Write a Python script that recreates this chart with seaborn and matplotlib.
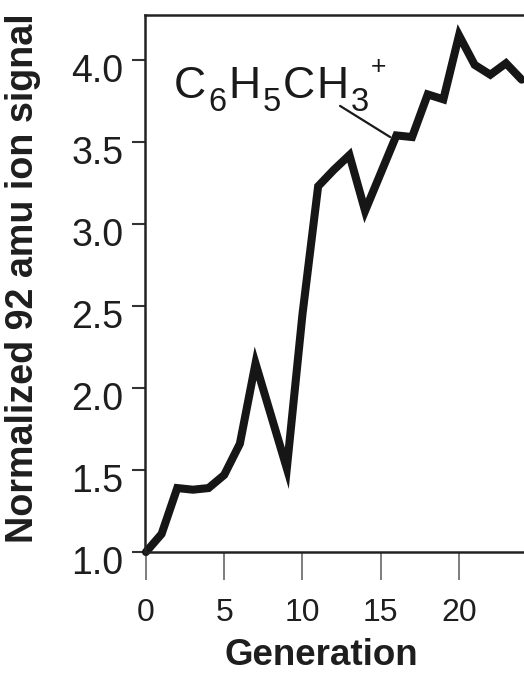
import numpy as np
import pandas as pd
import matplotlib
matplotlib.use("Agg")
import matplotlib.pyplot as plt
import matplotlib.transforms as mtransforms
import seaborn as sns

# data
generation = list(range(25))
ion_signal = [1.00, 1.11, 1.39, 1.38, 1.39, 1.47, 1.66, 2.15, 1.83, 1.51,
              2.45, 3.23, 3.33, 3.42, 3.08, 3.31, 3.54, 3.53, 3.79, 3.76,
              4.15, 3.97, 3.91, 3.98, 3.88]
x_ticks = [0, 5, 10, 15, 20]
y_ticks = [1.0, 1.5, 2.0, 2.5, 3.0, 3.5, 4.0]
# C6H5CH3+ written piece by piece: (text, kind)
species_parts = [("C", "main"), ("6", "sub"), ("H", "main"), ("5", "sub"),
                 ("C", "main"), ("H", "main"), ("3", "sub"), ("+", "sup")]

df = pd.DataFrame({"Generation": generation, "signal": ion_signal})

sns.set_theme(style="ticks")
plt.rcParams["font.family"] = ["Liberation Sans", "DejaVu Sans"]

fig = plt.figure(figsize=(5.24, 6.77), dpi=100)
ax = fig.add_axes([0.2767, 0.1846, 0.7233, 0.7932])

sns.lineplot(data=df, x="Generation", y="signal", ax=ax, color="#161616",
             linewidth=5.8, solid_joinstyle="miter", clip_on=False)

ax.set_xlim(-0.06, 24.15)
ax.set_ylim(1.0, 4.274)
ax.set_xticks(x_ticks)
ax.set_yticks(y_ticks)
ax.set_yticklabels([f"{v:.1f}" for v in y_ticks])

ax.tick_params(axis="x", direction="out", length=20, width=1.2, color="#666666",
               labelsize=23, pad=13, labelcolor="#1e1e1e")
ax.tick_params(axis="y", direction="out", length=9.5, width=1.5, color="#333333",
               labelsize=27, pad=6, labelcolor="#1e1e1e")

# the scanned labels sit a little below their ticks
shift = mtransforms.ScaledTranslation(0, -6 / 72, fig.dpi_scale_trans)
for lab in ax.get_yticklabels():
    lab.set_transform(lab.get_transform() + shift)

for side in ["left", "bottom", "top"]:
    ax.spines[side].set_linewidth(1.8)
    ax.spines[side].set_color("#222222")
ax.spines["right"].set_visible(False)

ax.set_xlabel("Generation", fontsize=26.5, fontweight="bold", color="#1e1e1e")
ax.set_ylabel("Normalized 92 amu ion signal", fontsize=27.2, fontweight="bold",
              color="#1e1e1e")
ax.xaxis.set_label_coords(0.464, -0.16)
ax.yaxis.set_label_coords(-0.275, 0.51)

# formula label built from pieces so the subscripts keep the scan's proportions
sizes = {"main": 32, "sub": 23.5, "sup": 19}
lifts = {"main": 0, "sub": -13, "sup": 24}
renderer = fig.canvas.get_renderer()
dx = 0.0
for txt, kind in species_parts:
    t = ax.annotate(txt, xy=(1.8, 3.766), xytext=(dx, lifts[kind]),
                    textcoords="offset pixels", fontsize=sizes[kind],
                    color="#1a1a1a", ha="left", va="baseline")
    dx += t.get_window_extent(renderer).width + 2.0
ax.plot([12.4, 15.6], [3.72, 3.53], color="#1a1a1a", linewidth=1.6)

fig.savefig("out.png", dpi=100)
